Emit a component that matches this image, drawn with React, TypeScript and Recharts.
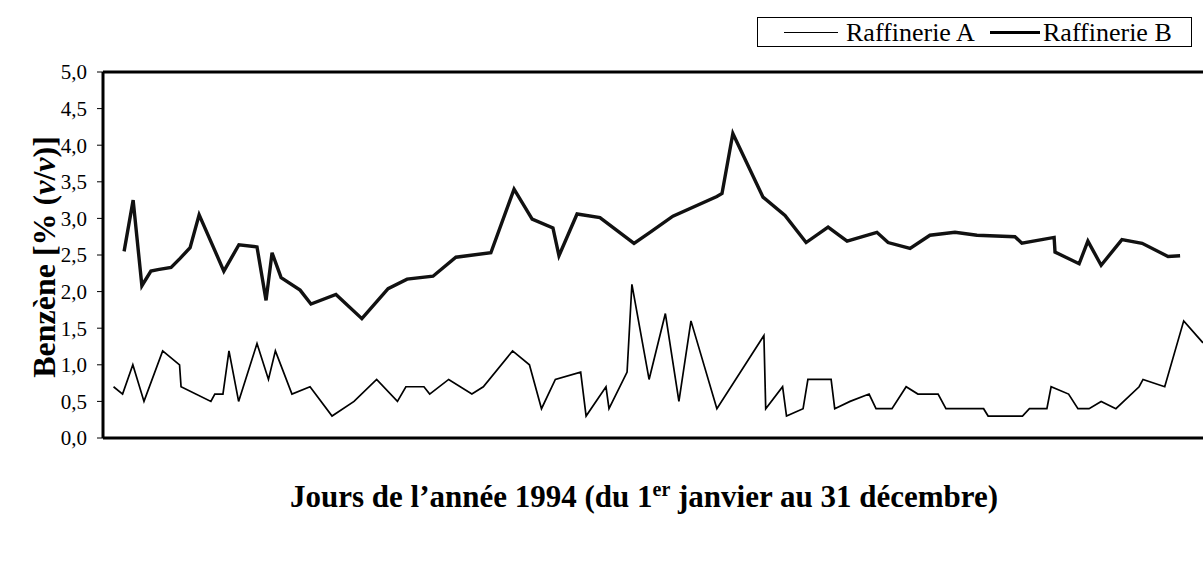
import React from "react";
import { LineChart, Line, XAxis, YAxis, ReferenceLine, Label } from "recharts";

// Day of year (1994) and benzene content [% (v/v)]
const aDays = [3.5, 6.5, 9.9, 13.6, 19.8, 25.4, 25.9, 35.8, 37.1, 39.8, 41.8, 45.0, 51.1, 54.9, 57.2, 62.7, 68.7, 76.0, 83.3, 90.8, 97.7, 100.5, 106.5, 108.4, 114.7, 122.4, 126.2, 135.9, 141.5, 145.5, 150.1, 158.5, 160.3, 166.9, 167.9, 173.9, 175.5, 181.2, 186.6, 191.1, 195.1, 203.7, 219.3, 219.9, 225.5, 226.8, 232.3, 233.9, 241.6, 242.8, 247.9, 254.2, 256.5, 261.8, 266.5, 270.4, 277.1, 279.7, 292.2, 293.7, 305.1, 307.4, 313.2, 314.6, 320.4, 323.5, 327.2, 331.2, 336.1, 343.8, 345.1, 352.3, 358.6, 365];
const aValues = [0.7, 0.6, 1.0, 0.5, 1.19, 1.0, 0.7, 0.5, 0.6, 0.6, 1.19, 0.5, 1.29, 0.8, 1.19, 0.6, 0.7, 0.3, 0.5, 0.8, 0.5, 0.7, 0.7, 0.6, 0.8, 0.6, 0.7, 1.19, 1.0, 0.4, 0.8, 0.9, 0.3, 0.7, 0.4, 0.9, 2.1, 0.8, 1.7, 0.5, 1.6, 0.4, 1.4, 0.4, 0.7, 0.3, 0.4, 0.8, 0.8, 0.4, 0.5, 0.6, 0.4, 0.4, 0.7, 0.6, 0.6, 0.4, 0.4, 0.3, 0.3, 0.4, 0.4, 0.7, 0.6, 0.4, 0.4, 0.5, 0.4, 0.7, 0.8, 0.7, 1.6, 1.3];

const bDays = [7.0, 10.0, 12.9, 15.9, 18.2, 22.6, 25.5, 28.9, 31.9, 40.1, 45.1, 51.1, 54.1, 56.1, 59.1, 65.4, 69.0, 77.3, 85.9, 94.6, 100.9, 109.5, 117.1, 128.7, 136.4, 142.4, 149.3, 151.3, 157.3, 164.9, 176.2, 181.5, 189.1, 203.7, 205.4, 209.0, 219.0, 226.3, 233.3, 240.6, 246.9, 256.8, 260.5, 267.8, 274.4, 282.7, 290.0, 302.6, 304.9, 315.6, 315.9, 323.9, 326.8, 331.2, 338.1, 344.8, 353.4, 357.4];
const bValues = [2.55, 3.25, 2.08, 2.28, 2.3, 2.33, 2.45, 2.6, 3.05, 2.28, 2.64, 2.61, 1.88, 2.53, 2.19, 2.02, 1.83, 1.96, 1.63, 2.04, 2.17, 2.21, 2.47, 2.53, 3.4, 2.99, 2.87, 2.49, 3.06, 3.01, 2.66, 2.81, 3.03, 3.3, 3.34, 4.16, 3.29, 3.04, 2.67, 2.88, 2.69, 2.81, 2.67, 2.59, 2.77, 2.81, 2.77, 2.75, 2.66, 2.74, 2.54, 2.38, 2.69, 2.36, 2.71, 2.66, 2.48, 2.49];

const yTicks = [0, 0.5, 1, 1.5, 2, 2.5, 3, 3.5, 4, 4.5, 5];
const seriesNames = ["Raffinerie A", "Raffinerie B"];
const yTitle = ["Benzène [% (", "v", "/", "v", ")]"];
const xTitle = ["Jours de l’année 1994 (du 1", "er", " janvier au 31 décembre)"];

const seriesA = aDays.map((d, i) => ({ day: d, value: aValues[i] }));
const seriesB = bDays.map((d, i) => ({ day: d, value: bValues[i] }));

const FONT = "'Liberation Serif', 'Times New Roman', serif";

const YTitle = (props: any) => {
  const vb = props.viewBox;
  const cx = 44;
  const cy = vb.y + vb.height / 2 + 2;
  return (
    <text
      x={cx}
      y={cy}
      transform={`rotate(-90 ${cx} ${cy})`}
      textAnchor="middle"
      dominantBaseline="central"
      fontFamily={FONT}
      fontWeight="bold"
      fontSize={32}
      fill="#000"
    >
      {yTitle[0]}
      <tspan fontStyle="italic">{yTitle[1]}</tspan>
      {yTitle[2]}
      <tspan fontStyle="italic">{yTitle[3]}</tspan>
      {yTitle[4]}
    </text>
  );
};

const XTitle = (props: any) => {
  const vb = props.viewBox;
  return (
    <text
      x={644}
      y={vb.y + 69}
      textAnchor="middle"
      fontFamily={FONT}
      fontWeight="bold"
      fontSize={31}
      fill="#000"
    >
      {xTitle[0]}
      <tspan fontSize={20} dy={-11}>{xTitle[1]}</tspan>
      <tspan dy={11}>{xTitle[2]}</tspan>
    </text>
  );
};

const legendText: React.CSSProperties = {
  position: "absolute",
  top: 0,
  lineHeight: "30px",
  fontFamily: FONT,
  fontSize: 26,
  color: "#000",
  whiteSpace: "nowrap",
};

export default function App() {
  return (
    <div style={{ position: "absolute", left: 0, top: 0, width: 1203, height: 581, background: "#fff" }}>
      <LineChart width={1203} height={581} margin={{ top: 72, right: 0, bottom: 43, left: 43 }}>
        <XAxis
          dataKey="day"
          type="number"
          domain={[0, 365]}
          allowDataOverflow
          tick={false}
          tickLine={false}
          height={100}
          axisLine={{ stroke: "#000", strokeWidth: 3 }}
        >
          <Label content={XTitle} />
        </XAxis>
        <YAxis
          type="number"
          domain={[0, 5]}
          ticks={yTicks}
          interval={0}
          width={60}
          axisLine={{ stroke: "#000", strokeWidth: 3 }}
          tickLine={{ stroke: "#000", strokeWidth: 1 }}
          tickSize={6}
          tickMargin={10}
          tick={{ fontFamily: FONT, fontSize: 21, fill: "#000" }}
          tickFormatter={(v: number) => v.toFixed(1).replace(".", ",")}
        >
          <Label content={YTitle} />
        </YAxis>
        <ReferenceLine y={5} stroke="#000" strokeWidth={3} ifOverflow="extendDomain" />
        <Line
          data={seriesA}
          dataKey="value"
          name={seriesNames[0]}
          type="linear"
          stroke="#000"
          strokeWidth={1.7}
          dot={false}
          isAnimationActive={false}
        />
        <Line
          data={seriesB}
          dataKey="value"
          name={seriesNames[1]}
          type="linear"
          stroke="#111"
          strokeWidth={3.4}
          dot={false}
          isAnimationActive={false}
        />
      </LineChart>
      <div
        style={{
          position: "absolute",
          left: 757,
          top: 17,
          width: 435,
          height: 30,
          border: "1px solid #000",
          boxSizing: "border-box",
        }}
      >
        <span style={{ position: "absolute", left: 26, top: 14, width: 54, borderTop: "1.5px solid #000" }} />
        <span style={{ ...legendText, left: 88 }}>{seriesNames[0]}</span>
        <span style={{ position: "absolute", left: 232, top: 13, width: 50, borderTop: "3px solid #000" }} />
        <span style={{ ...legendText, left: 285 }}>{seriesNames[1]}</span>
      </div>
    </div>
  );
}
